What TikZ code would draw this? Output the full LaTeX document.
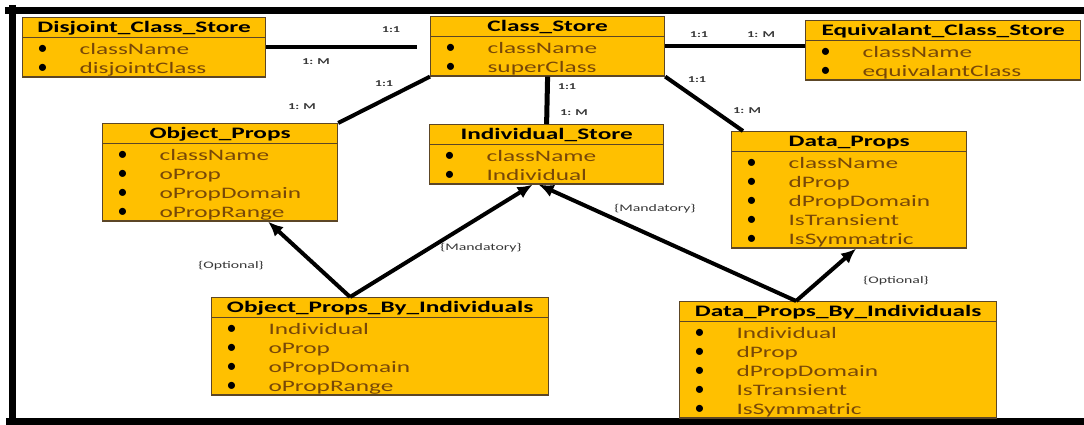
\documentclass[tikz,border=0pt]{standalone}
\usepackage{fontspec}
\setmainfont[FakeStretch=1.58]{Carlito}
\newfontfamily\bulletfont{Carlito}
\usepackage{tikz}
\usetikzlibrary{arrows.meta,shapes.multipart}
\definecolor{Gold}{RGB}{255,192,0}
\definecolor{Rim}{RGB}{92,70,38}
\definecolor{ItemText}{RGB}{120,72,8}
\definecolor{Note}{RGB}{55,55,55}

\newlength{\rowwd}
\newcommand{\hdr}[2]{\makebox[#1][c]{\rule[-5pt]{0pt}{19pt}\bfseries #2}}
\newcommand{\itm}[1]{\hbox to \rowwd{\rule[-3pt]{0pt}{19pt}\makebox[57pt][l]{\makebox[40pt]{\bulletfont\fontsize{20}{19}\selectfont\textbullet}}\color{ItemText}#1\hfil}}
\newcommand{\lst}[2]{\setlength{\rowwd}{#1}\vbox{\offinterlineskip#2}}

\begin{document}
\begin{tikzpicture}[x=1pt,y=-1pt,
    tbl/.style={rectangle split, rectangle split parts=2, draw=Rim, line width=1.2pt, fill=Gold,
        inner sep=0pt, anchor=north west, font=\fontsize{16}{19}\selectfont},
    conn/.style={line width=4pt},
    arr/.style={line width=4pt, -{Latex[length=15pt,width=13pt]}},
    card/.style={font=\fontsize{9}{10}\selectfont\bfseries, text=Note, inner sep=0pt},
    note/.style={font=\fontsize{10}{11}\selectfont, text=Note, inner sep=0pt}]

    \useasboundingbox (0,0) rectangle (1084,425);

    % frame
    \draw[line width=7pt] (5,10.5) to (1084,10.5);
    \draw[line width=7pt] (12.5,5) to (12.5,425);
    \draw[line width=7pt] (6,421.5) to (1084,421.5);

    % tables
    \node[tbl] (disjoint) at (22,17) {\hdr{243pt}{Disjoint\_Class\_Store}
        \nodepart{two}\lst{243pt}{\itm{className}\itm{disjointClass}}};
    \node[tbl] (classstore) at (430,16) {\hdr{234pt}{Class\_Store}
        \nodepart{two}\lst{234pt}{\itm{className}\itm{superClass}}};
    \node[tbl] (equiv) at (805,20) {\hdr{275pt}{Equivalant\_Class\_Store}
        \nodepart{two}\lst{275pt}{\itm{className}\itm{equivalantClass}}};
    \node[tbl] (objprops) at (102,123) {\hdr{235pt}{Object\_Props}
        \nodepart{two}\lst{235pt}{\itm{className}\itm{oProp}\itm{oPropDomain}\itm{oPropRange}}};
    \node[tbl] (indstore) at (429,124) {\hdr{234pt}{Individual\_Store}
        \nodepart{two}\lst{234pt}{\itm{className}\itm{Individual}}};
    \node[tbl] (dataprops) at (731,131) {\hdr{235pt}{Data\_Props}
        \nodepart{two}\lst{235pt}{\itm{className}\itm{dProp}\itm{dPropDomain}\itm{IsTransient}\itm{IsSymmatric}}};
    \node[tbl] (opbi) at (211,297) {\hdr{337pt}{Object\_Props\_By\_Individuals}
        \nodepart{two}\lst{337pt}{\itm{Individual}\itm{oProp}\itm{oPropDomain}\itm{oPropRange}}};
    \node[tbl] (dpbi) at (679,301) {\hdr{317pt}{Data\_Props\_By\_Individuals}
        \nodepart{two}\lst{317pt}{\itm{Individual}\itm{dProp}\itm{dPropDomain}\itm{IsTransient}\itm{IsSymmatric}}};

    % relations
    \draw[conn, shorten >=13pt] (disjoint.east) to (disjoint.east -| classstore.west);
    \draw[conn] (classstore.east) to (classstore.east -| equiv.west);
    \draw[conn] (classstore.south west) to (objprops.north east);
    \draw[line width=5pt] (classstore.south) to (indstore.north);
    \draw[conn] (classstore.south east) to ([xshift=12pt]dataprops.north west);

    \coordinate (opbiTop) at ([xshift=-30pt]opbi.north);
    \coordinate (dpbiTop) at ([xshift=-42pt]dpbi.north);
    \draw[arr] (opbiTop) to ([xshift=48pt]objprops.south);
    \draw[arr] (opbiTop) to ([xshift=-14pt]indstore.south);
    \draw[arr] (dpbiTop) to ([xshift=-8pt]indstore.south);
    \draw[arr] (dpbiTop) to ([xshift=7pt]dataprops.south);

    % cardinalities and notes
    \foreach \n/\x/\y/\t in {cA/391/30/1:1, cB/316/62/1: M, cC/384/84/1:1, cD/302/107/1: M,
        cE/567/87/1:1, cF/574/113/1: M, cG/699/35/1:1, cH/761/35/1: M, cI/697/80/1:1, cJ/747/111/1: M}
        \node[card] (\n) at (\x,\y) {\t};
    \foreach \n/\x/\y/\t in {nA/231/266/\{Optional\}, nB/481/248/\{Mandatory\},
        nC/655/209/\{Mandatory\}, nD/896/281/\{Optional\}}
        \node[note] (\n) at (\x,\y) {\t};
\end{tikzpicture}
\end{document}
